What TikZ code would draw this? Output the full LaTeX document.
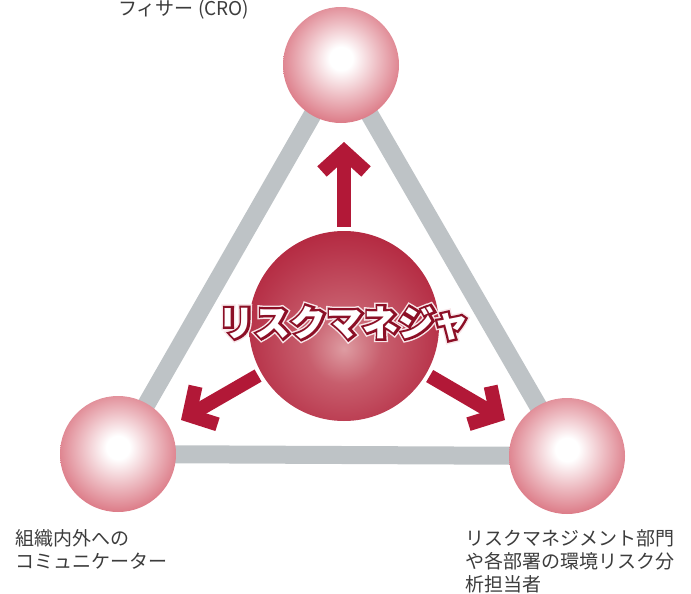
\documentclass[tikz,border=0pt]{standalone}
\usepackage{fontspec}
\newfontfamily\jpfont{Noto Sans CJK JP}
\usetikzlibrary{arrows.meta,shadings}

\definecolor{barGray}{RGB}{190,195,198}
\definecolor{ballRed}{RGB}{204,62,80}
\definecolor{ballRim}{RGB}{178,34,56}
\definecolor{mgrRed}{RGB}{172,18,44}
\definecolor{mgrPink}{RGB}{222,156,162}
\definecolor{arrowRed}{RGB}{178,24,55}
\definecolor{labelGray}{RGB}{60,60,60}

\pgfdeclareradialshading{smallball}{\pgfpoint{0bp}{3bp}}{%
  color(0bp)=(white); color(5bp)=(white); color(16bp)=(ballRed!35!white);
  color(30bp)=(ballRed!78!white); color(41bp)=(ballRed); color(50bp)=(ballRim);
  color(70bp)=(ballRim)}
\pgfdeclareradialshading{mgrball}{\pgfpoint{0bp}{-6bp}}{%
  color(0bp)=(mgrPink); color(10bp)=(mgrPink!55!mgrRed); color(24bp)=(mgrRed!85!white);
  color(38bp)=(mgrRed); color(50bp)=(mgrRed!88!black); color(70bp)=(mgrRed!88!black)}

% stroked glyphs (text render mode 2): width, stroke colour, text
\newcommand{\strokedtext}[3]{\special{pdf:literal direct 2 Tr #1 w #2 RG}#3\special{pdf:literal direct 0 Tr}}
% white title with a dark red rim and a thin white halo
\newcommand{\rimtext}[1]{%
  \rlap{\strokedtext{7.5}{0.97 0.9 0.91}{#1}}%
  \rlap{\strokedtext{4.6}{0.55 0.06 0.15}{#1}}%
  #1}

\tikzset{
  ball/.style={circle, inner sep=0pt, minimum size=116pt, shade, shading=smallball},
  mgr/.style={circle, inner sep=0pt, minimum size=190pt, shade, shading=mgrball},
  bar/.style={barGray, line width=18pt},
  mgrarrow/.style={arrowRed, line width=14pt, shorten <=4pt,
    -{Straight Barb[length=20pt,width=44pt,sharp]}},
  mgrtext/.style={font=\jpfont\bfseries\fontsize{36}{40}\selectfont, inner sep=0pt, text=white},
  rolelabel/.style={font=\jpfont\fontsize{19}{23}\selectfont, text=labelGray,
    align=left, inner sep=0pt, anchor=north west}
}

\begin{document}
\begin{tikzpicture}[x=1pt,y=-1pt]
    \useasboundingbox (0,0) rectangle (691,594);

    % ball centres
    \coordinate (cro-c) at (341,65);
    \coordinate (comm-c) at (118,454);
    \coordinate (analyst-c) at (567,456);
    \coordinate (mgr-c) at (344,326);

    % grey triangle
    \draw[bar] (cro-c) -- (comm-c) -- (analyst-c) -- cycle;

    \node[ball] (cro) at (cro-c) {};
    \node[ball] (comm) at (comm-c) {};
    \node[ball] (analyst) at (analyst-c) {};
    \node[mgr] (mgr) at (mgr-c) {};

    % arrows out of the manager
    \coordinate (cro-tip) at (344,142);
    \coordinate (comm-tip) at (181,420);
    \coordinate (analyst-tip) at (505,420);
    \draw[mgrarrow] (mgr) -- (cro-tip);
    \draw[mgrarrow] (mgr) -- (comm-tip);
    \draw[mgrarrow] (mgr) -- (analyst-tip);

    \node[mgrtext] (mgr-label) at (344,323) {\rimtext{リスクマネジャ}};

    % role labels
    \node[rolelabel, anchor=base west] (cro-label) at (118,16) {フィサー (CRO)};
    \node[rolelabel] (comm-label) at (15,529) {組織内外への\\コミュニケーター};
    \node[rolelabel] (analyst-label) at (465,529) {リスクマネジメント部門\\や各部署の環境リスク分\\析担当者};

\end{tikzpicture}
\end{document}
